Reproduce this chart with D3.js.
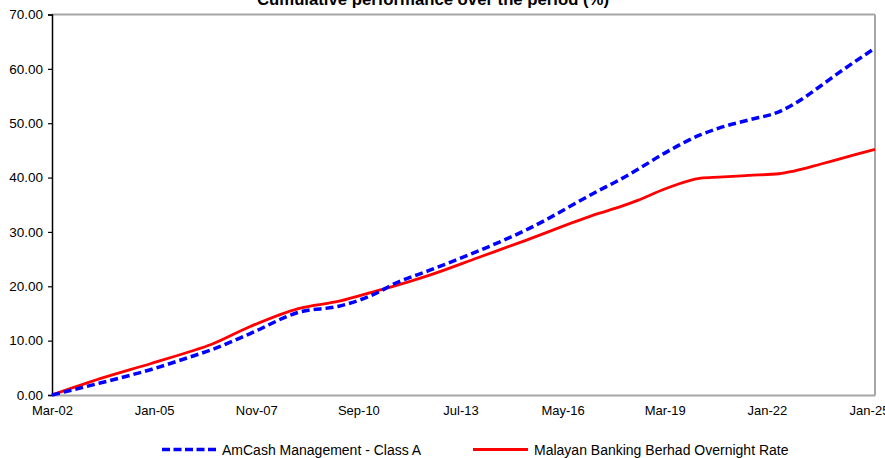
<!DOCTYPE html>
<html>
<head>
<meta charset="utf-8">
<script src="https://cdn.jsdelivr.net/npm/d3@7"></script>
<style>
  html, body { margin: 0; padding: 0; background: #fff; overflow: hidden; }
  svg { display: block; font-family: "Liberation Sans", Arial, Helvetica, sans-serif; }
</style>
</head>
<body>
<svg id="chart" width="885" height="458"></svg>
<script>
// ---- data ----
const title = "Cumulative performance over the period (%)";
// months elapsed since Mar-02
const months   = [0, 16, 33, 46, 53, 66, 82, 96, 109, 113, 126, 142, 158, 182, 189, 195, 204, 216, 222, 232, 242, 247, 256, 262, 274];
const amcash   = [0, 2.2, 4.7, 7.0, 8.3, 11.3, 15.2, 16.4, 19.0, 20.2, 23.0, 26.5, 30.4, 37.6, 39.6, 41.5, 44.5, 47.9, 49.1, 50.6, 52.1, 53.5, 56.9, 59.3, 63.8];
const maybank  = [0, 3.0, 5.8, 8.0, 9.3, 12.6, 15.9, 17.3, 19.3, 19.9, 22.1, 25.3, 28.5, 33.4, 34.6, 35.8, 37.9, 39.9, 40.1, 40.4, 40.7, 41.2, 42.5, 43.4, 45.2];
const xTickLabels = ["Mar-02", "Jan-05", "Nov-07", "Sep-10", "Jul-13", "May-16", "Mar-19", "Jan-22", "Jan-25"];
const xTickStep = 34; // months between labels
const yTicks = [0, 10, 20, 30, 40, 50, 60, 70];
const seriesNames = ["AmCash Management - Class A", "Malayan Banking Berhad Overnight Rate"];

// ---- layout ----
const svg = d3.select("#chart");
const L = 52, R = 875, T = 14.5, B = 395;

const x = d3.scaleLinear().domain([0, 274]).range([L, R]);
const y = d3.scaleLinear().domain([0, 70]).range([B, T]);

// title (cut off at top, as in reference)
svg.append("text")
  .attr("x", 433).attr("y", 5)
  .attr("text-anchor", "middle")
  .attr("font-weight", "bold")
  .attr("font-size", 16)
  .attr("textLength", 352)
  .attr("lengthAdjust", "spacingAndGlyphs")
  .attr("fill", "#000")
  .text(title);

// frame: top and right grey
svg.append("line").attr("x1", L).attr("x2", R).attr("y1", T).attr("y2", T)
  .attr("stroke", "#a6a6a6").attr("stroke-width", 2);
svg.append("line").attr("x1", R).attr("x2", R).attr("y1", T).attr("y2", B)
  .attr("stroke", "#a6a6a6").attr("stroke-width", 2);

// y axis
const yAxis = d3.axisLeft(y).tickValues(yTicks).tickFormat(d3.format(".2f")).tickSize(4).tickPadding(5);
const gy = svg.append("g").attr("transform", `translate(${L},0)`).call(yAxis);
gy.select(".domain").attr("stroke", "#000").attr("stroke-width", 1.5);
gy.selectAll(".tick line").attr("stroke", "#000").attr("stroke-width", 1.2);
gy.selectAll(".tick text").attr("font-size", 13.5).attr("fill", "#000").attr("font-family", null);

// x axis (grey baseline, labels only)
const xAxis = d3.axisBottom(x)
  .tickValues(xTickLabels.map((d, i) => i * xTickStep))
  .tickFormat((d, i) => xTickLabels[i])
  .tickSize(0).tickPadding(11);
const gx = svg.append("g").attr("transform", `translate(0,${B})`).call(xAxis);
gx.select(".domain").attr("stroke", "#a6a6a6").attr("stroke-width", 2);
gx.selectAll(".tick text").attr("font-size", 13).attr("fill", "#000").attr("font-family", null);

// lines
const line = d3.line().x(d => x(d[0])).y(d => y(d[1])).curve(d3.curveMonotoneX);
const redData = months.map((m, i) => [m, maybank[i]]);
const blueData = months.map((m, i) => [m, amcash[i]]);

svg.append("path").datum(redData)
  .attr("d", line).attr("fill", "none")
  .attr("stroke", "#ff0000").attr("stroke-width", 2.8);
svg.append("path").datum(blueData)
  .attr("d", line).attr("fill", "none")
  .attr("stroke", "#0000ff").attr("stroke-width", 3.5)
  .attr("stroke-dasharray", "8,4");

// legend
const legend = [
  { name: seriesNames[0], color: "#0000ff", dash: "8,3.5", w: 3.5, x0: 162, x1: 217, tx: 222 },
  { name: seriesNames[1], color: "#ff0000", dash: null, w: 2.8, x0: 473, x1: 528, tx: 534 }
];
const ly = 449.5;
legend.forEach(s => {
  svg.append("line").attr("x1", s.x0).attr("x2", s.x1).attr("y1", ly).attr("y2", ly)
    .attr("stroke", s.color).attr("stroke-width", s.w)
    .attr("stroke-dasharray", s.dash);
  svg.append("text").attr("x", s.tx).attr("y", ly + 5)
    .attr("font-size", 14).attr("fill", "#000").text(s.name);
});
</script>
</body>
</html>
